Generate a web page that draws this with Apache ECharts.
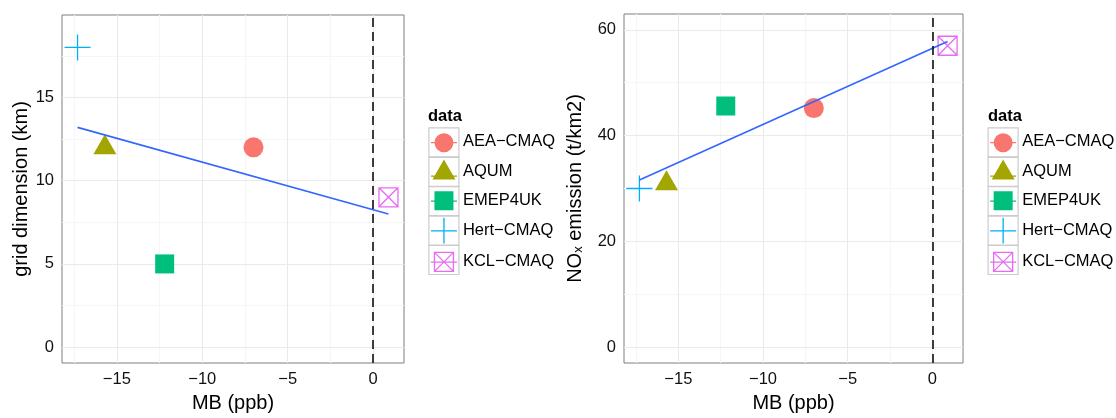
<!DOCTYPE html>
<html>
<head>
<meta charset="utf-8">
<script src="https://cdn.jsdelivr.net/npm/echarts@6/dist/echarts.min.js"></script>
<style>
html,body{margin:0;padding:0;background:#fff;}
#chart{width:1116px;height:418px;}
</style>
</head>
<body>
<div id="chart"></div>
<script>
// ---- data ----
const models = ['AEA\u2212CMAQ', 'AQUM', 'EMEP4UK', 'Hert\u2212CMAQ', 'KCL\u2212CMAQ'];
const colors = ['#F8766D', '#A3A500', '#00BF7D', '#00B0F6', '#E76BF3'];
const mb = [-7.0, -15.7, -12.2, -17.3, 0.9];            // MB (ppb)
const gridDim = [12, 12, 5, 18, 9];                      // grid dimension (km)
const noxEmission = [45.2, 31, 45.6, 30, 57];            // NOx emission (t/km2)
// fitted (lm) line end points
const fitX = [-17.3, 0.9];
const fitGridY = [13.2, 8.0];
const fitNoxY = [31.6, 57.8];
// axis ticks
const xTicks = [-15, -10, -5, 0];
const xMinor = [-17.5, -12.5, -7.5, -2.5];
const gridTicks = [0, 5, 10, 15];
const gridMinor = [2.5, 7.5, 12.5, 17.5];
const noxTicks = [0, 20, 40, 60];
const noxMinor = [10, 30, 50];
const xRange = [-18.21, 1.81];
const gridRange = [-0.95, 19.95];
const noxRange = [-3, 63];
const refX = 0;

const FONT = 'Liberation Sans, Arial, Helvetica, sans-serif';
const chart = echarts.init(document.getElementById('chart'), null, {renderer: 'canvas'});
const fmt = v => String(v).replace('-', '\u2212');

function xAxis(gi) {
  return {
    type: 'value', gridIndex: gi, min: xRange[0], max: xRange[1],
    name: 'MB (ppb)', nameLocation: 'middle', nameGap: 30,
    nameTextStyle: {fontSize: 20, color: '#000', fontFamily: FONT},
    axisLine: {show: false},
    axisTick: {show: true, length: 4.5, customValues: xTicks, lineStyle: {color: '#333', width: 1}},
    axisLabel: {customValues: xTicks, formatter: fmt, margin: 8, fontSize: 16.5, color: '#111', fontFamily: FONT},
    splitLine: {show: false}
  };
}
function yAxis(gi, range, ticks, name, gap, rich) {
  return {
    type: 'value', gridIndex: gi, min: range[0], max: range[1],
    name: name, nameLocation: 'middle', nameGap: gap,
    nameTextStyle: {fontSize: 20, color: '#000', fontFamily: FONT, rich: rich},
    axisLine: {show: false},
    axisTick: {show: true, length: 4.5, customValues: ticks, lineStyle: {color: '#333', width: 1}},
    axisLabel: {customValues: ticks, formatter: fmt, margin: 8, fontSize: 16.5, color: '#111', fontFamily: FONT},
    splitLine: {show: false}
  };
}

function gridLines(gi, yMajor, yMinor) {
  const d = [];
  xMinor.forEach(v => d.push({xAxis: v, lineStyle: {color: '#F6F6F6', width: 1.2, type: 'solid'}}));
  yMinor.forEach(v => d.push({yAxis: v, lineStyle: {color: '#F6F6F6', width: 1.2, type: 'solid'}}));
  xTicks.forEach(v => d.push({xAxis: v, lineStyle: {color: '#EAEAEA', width: 1, type: 'solid'}}));
  yMajor.forEach(v => d.push({yAxis: v, lineStyle: {color: '#EAEAEA', width: 1, type: 'solid'}}));
  return {
    type: 'line', name: 'gridlines' + gi, xAxisIndex: gi, yAxisIndex: gi, data: [],
    silent: true, animation: false,
    markLine: {silent: true, z: 1, symbol: ['none', 'none'], label: {show: false}, animation: false, data: d}
  };
}

const symbolDefs = [
  {symbol: 'circle', symbolSize: 20, fill: true},
  {symbol: 'triangle', symbolSize: [23, 20], symbolOffset: [0, -3], fill: true},
  {symbol: 'rect', symbolSize: 19, fill: true},
  {symbol: 'path://M0 13 L26 13 M13 0 L13 26', symbolSize: 26, fill: false},
  {symbol: 'path://M0 0 L19 0 L19 19 L0 19 Z M0 0 L19 19 M19 0 L0 19', symbolSize: 19, fill: false}
];

function pointSeries(gi, yVals) {
  return models.map((m, i) => {
    const s = symbolDefs[i];
    return {
      type: 'scatter', name: m, xAxisIndex: gi, yAxisIndex: gi,
      data: [[mb[i], yVals[i]]],
      symbol: s.symbol, symbolSize: s.symbolSize, symbolOffset: s.symbolOffset || [0, 0],
      itemStyle: s.fill ? {color: colors[i], opacity: 1}
                        : {color: 'rgba(0,0,0,0)', borderColor: colors[i], borderWidth: 1.3, opacity: 1},
      z: 2, animation: false
    };
  });
}

function fitSeries(gi, ys) {
  return {
    type: 'line', name: 'fit' + gi, xAxisIndex: gi, yAxisIndex: gi,
    data: fitX.map((x, i) => [x, ys[i]]),
    showSymbol: false, symbol: 'none', lineStyle: {color: '#3366FF', width: 1.6},
    z: 3, animation: false, silent: true,
    markLine: {silent: true, z: 4, symbol: ['none', 'none'], label: {show: false}, animation: false,
      data: [{xAxis: refX, lineStyle: {color: '#000', width: 1.5, type: [9, 5]}}]}
  };
}

// legend icons (30 x 29 key boxes; corner moveTo's fix the box)
const BOX = 'M0 0 M30 29 ';
const legendIcons = [
  BOX + 'M5.5 15.4 A9.5 9.5 0 1 1 24.5 15.4 A9.5 9.5 0 1 1 5.5 15.4 Z M2 14.8 L28 14.8 L28 16 L2 16 Z',
  BOX + 'M15 2.7 L26.5 22.7 L3.5 22.7 Z M2 18.8 L28 18.8 L28 20 L2 20 Z',
  BOX + 'M5.5 5.2 L24.5 5.2 L24.5 24.2 L5.5 24.2 Z M2 14.4 L28 14.4 L28 15.6 L2 15.6 Z',
  BOX + 'M2 14.7 L28 14.7 M15 1.7 L15 27.3',
  BOX + 'M5.5 5.5 L24.5 5.5 L24.5 24.5 L5.5 24.5 Z M5.5 5.5 L24.5 24.5 M24.5 5.5 L5.5 24.5 M2 15.3 L28 15.3'
];
function legendData() {
  return models.map((m, i) => ({
    name: m,
    icon: 'path://' + legendIcons[i],
    itemStyle: symbolDefs[i].fill ? {color: colors[i], borderWidth: 0}
                                  : {color: 'rgba(0,0,0,0)', borderColor: colors[i], borderWidth: 1.3}
  }));
}
function legend(left, top) {
  return {
    orient: 'vertical', left: left, top: top, padding: 0,
    itemWidth: 30, itemHeight: 29, itemGap: 0.4, selectedMode: false,
    textStyle: {fontSize: 16.5, color: '#000', fontFamily: FONT, padding: [0, 0, 0, -1]},
    data: legendData()
  };
}
function keyBoxes(left, top) {
  return models.map((m, i) => ({
    type: 'rect', left: left, top: top + i * 29.4, z: 0,
    shape: {width: 30, height: 29},
    style: {fill: '#fff', stroke: '#CCCCCC', lineWidth: 1.2}
  }));
}

const option = {
  backgroundColor: '#fff',
  animation: false,
  textStyle: {fontFamily: FONT},
  title: [
    {text: 'data', left: 428, top: 108, padding: 0, textStyle: {fontSize: 16.5, fontWeight: 'bold', color: '#000', fontFamily: FONT}},
    {text: 'data', left: 988, top: 108, padding: 0, textStyle: {fontSize: 16.5, fontWeight: 'bold', color: '#000', fontFamily: FONT}}
  ],
  legend: [legend(428.3, 127.3), legend(987.5, 127.3)],
  graphic: keyBoxes(428.3, 127.3).concat(keyBoxes(987.5, 127.3)),
  grid: [
    {left: 62, top: 15, width: 342, height: 353, show: true, backgroundColor: '#fff', borderColor: '#7F7F7F', borderWidth: 1},
    {left: 624, top: 14, width: 339, height: 354, show: true, backgroundColor: '#fff', borderColor: '#7F7F7F', borderWidth: 1}
  ],
  xAxis: [xAxis(0), xAxis(1)],
  yAxis: [
    yAxis(0, gridRange, gridTicks, 'grid dimension (km)', 31),
    yAxis(1, noxRange, noxTicks, 'NO{sub|x} emission (t/km2)', 39,
      {sub: {fontSize: 13, color: '#000', fontFamily: FONT, verticalAlign: 'bottom', padding: [7, 0, 0, 0]}})
  ],
  series: [
    gridLines(0, gridTicks, gridMinor),
    gridLines(1, noxTicks, noxMinor),
    fitSeries(0, fitGridY),
    fitSeries(1, fitNoxY)
  ].concat(pointSeries(0, gridDim)).concat(pointSeries(1, noxEmission))
};
chart.setOption(option);
</script>
</body>
</html>
